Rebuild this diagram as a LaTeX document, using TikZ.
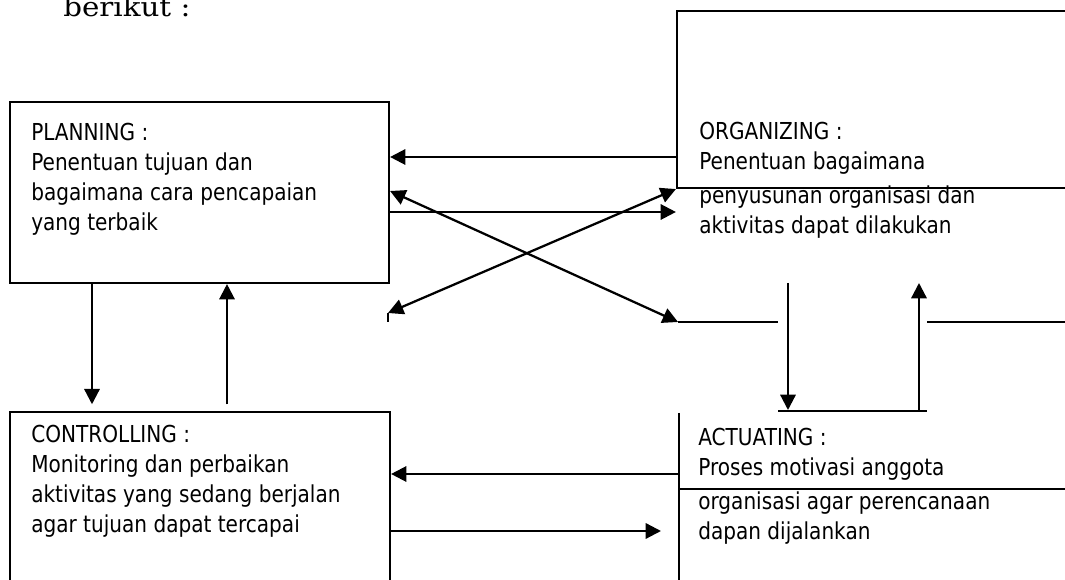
\documentclass[tikz,border=0pt]{standalone}
\usepackage{fontspec}
\setmainfont{DejaVu Sans}[FakeStretch=0.86]
\newfontfamily\titlefont{DejaVu Serif}[FakeStretch=1.1]
\usetikzlibrary{arrows.meta}

\begin{document}
\begin{tikzpicture}[x=0.75pt, y=-0.75pt,
    box/.style={draw, line width=1.6pt, inner sep=0pt},
    frag/.style={line width=1.6pt},
    txt/.style={anchor=north west, inner sep=0pt, align=left,
      font=\fontsize{17.5pt}{22.5pt}\selectfont},
    arr/.style={-{Triangle[length=11.5pt,width=11.5pt]}, line width=1.7pt},
    darr/.style={{Triangle[length=11.5pt,width=11.5pt]}-{Triangle[length=11.5pt,width=11.5pt]}, line width=1.7pt}
  ]
  \useasboundingbox (0,0) rectangle (1065,580);

  % boxes
  \node[box, minimum width=284.25pt, minimum height=135.75pt] (plan) at (199.5,192.5) {};
  \node[box, minimum width=285pt, minimum height=141pt] (ctrl) at (200,506) {};
  \node[box, minimum width=317.25pt, minimum height=132.75pt] (org) at (888.5,99.5) {};
  \coordinate (mid) at (678,322);
  \coordinate (act) at (679,413);
  \coordinate (tick) at (388,313);

  % texts
  \node[font=\titlefont\fontsize{20pt}{22pt}\selectfont, anchor=base west, inner sep=0pt] (title) at (63,17) {berikut :};
  \node[txt] (plantext) at (31,123) {PLANNING :\\Penentuan tujuan dan\\bagaimana cara pencapaian\\yang terbaik};
  \node[txt] (orgtext) at (699,122) {ORGANIZING :\\Penentuan bagaimana\\[3pt]penyusunan organisasi dan\\aktivitas dapat dilakukan};
  \node[txt] (ctrltext) at (31,425) {CONTROLLING :\\Monitoring dan perbaikan\\aktivitas yang sedang berjalan\\agar tujuan dapat tercapai};
  \node[txt] (acttext) at (698,428) {ACTUATING :\\Proses motivasi anggota\\[3pt]organisasi agar perencanaan\\dapan dijalankan};

  % broken frames on the right
  \draw[frag] (mid) -- (778,322);
  \draw[frag] (778,411) -- (927,411);
  \draw[frag] (927,322) -- (1070,322);
  \draw[frag] (act) -- (act |- 0,600);
  \draw[frag] (act |- 0,489) -- (1070,489);
  \draw[frag] (tick) -- (388,322);

  % arrows
  \draw[arr] (org.west |- 0,157) -- (plan.east |- 0,157);
  \draw[arr] (plan.east |- 0,212) -- (org.west |- 0,212);
  \draw[darr] (plan.east |- 0,191) -- (mid);
  \draw[darr] (org.south west) -- (tick);
  \draw[arr, shorten >=5pt] (plan.south -| 92,0) -- (ctrl.north -| 92,0);
  \draw[arr, shorten <=5pt] (ctrl.north -| 227,0) -- (plan.south -| 227,0);
  \draw[arr] (act |- 0,474) -- (ctrl.east |- 0,474);
  \draw[arr, shorten >=13.5pt] (ctrl.east |- 0,531) -- (act |- 0,531);
  \draw[arr] (788,283) -- (788,410);
  \draw[arr] (919,411) -- (919,283);
\end{tikzpicture}
\end{document}
